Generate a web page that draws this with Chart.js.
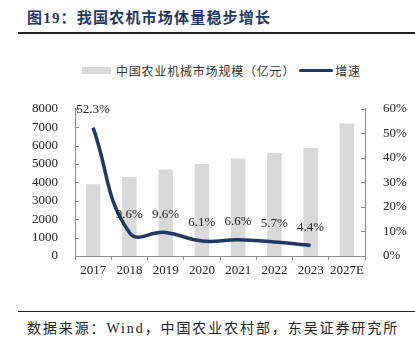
<!DOCTYPE html>
<html>
<head>
<meta charset="utf-8">
<script src="https://cdn.jsdelivr.net/npm/chart.js@4/dist/chart.umd.min.js"></script>
<style>
  body { margin: 0; width: 415px; height: 343px; background: #fff; position: relative; overflow: hidden; }
  .title { position: absolute; left: 27px; top: 6px; font: bold 15px "Liberation Serif", "Noto Sans CJK SC", serif; color: #1f3864; letter-spacing: 1.2px; }
  .rule { position: absolute; left: 18px; right: 0; height: 0; border-top: 2px solid #222; }
  .legend { position: absolute; top: 62px; left: 82px; font: 12px "Noto Sans CJK SC", sans-serif; color: #333; display: flex; align-items: center; letter-spacing: 0.8px; }
  .legend .box { width: 29px; height: 7px; background: #d9d9d9; margin-right: 5px; }
  .legend .ln { width: 34px; height: 3px; background: #1f3864; margin: 0 2px 0 4px; border-radius: 2px; }
  .source { position: absolute; left: 27px; top: 317px; font: 14px "Liberation Serif", "Noto Sans CJK SC", serif; color: #222; letter-spacing: 1.9px; }
  canvas { position: absolute; left: 0; top: 91px; }
</style>
</head>
<body>
<div class="title">图19：我国农机市场体量稳步增长</div>
<div class="rule" style="top:32px"></div>
<div class="legend"><span class="box"></span>中国农业机械市场规模（亿元）<span class="ln"></span>增速</div>
<canvas id="chart" width="415" height="195"></canvas>
<div class="rule" style="top:311px; border-top-width:1.5px"></div>
<div class="source">数据来源：Wind，中国农业农村部，东吴证券研究所</div>
<script>
const years = ["2017", "2018", "2019", "2020", "2021", "2022", "2023", "2027E"];
// 市场规模（亿元）
const marketSize = [3900, 4300, 4700, 5000, 5300, 5600, 5870, 7200];
// 增速（%）
const growth = [52.3, 9.6, 9.6, 6.1, 6.6, 5.7, 4.4, null];

const axisColor = "#8c8c8c";
const tickFont = { family: "Liberation Serif", size: 13 };

// inward tick marks on both value axes
const innerTicks = {
  id: "innerTicks",
  afterDatasetsDraw(chart) {
    const { ctx, chartArea, scales } = chart;
    ctx.save();
    ctx.strokeStyle = axisColor;
    ctx.lineWidth = 1;
    scales.y.ticks.forEach((t, i) => {
      const y = Math.round(scales.y.getPixelForTick(i)) + 0.5;
      ctx.beginPath();
      ctx.moveTo(chartArea.left, y);
      ctx.lineTo(chartArea.left + 4, y);
      ctx.stroke();
    });
    scales.y1.ticks.forEach((t, i) => {
      const y = Math.round(scales.y1.getPixelForTick(i)) + 0.5;
      ctx.beginPath();
      ctx.moveTo(chartArea.right, y);
      ctx.lineTo(chartArea.right - 4, y);
      ctx.stroke();
    });
    ctx.restore();
  },
};

// growth rate labels above the line points
const growthLabels = {
  id: "growthLabels",
  afterDatasetsDraw(chart) {
    const { ctx } = chart;
    const meta = chart.getDatasetMeta(1);
    ctx.save();
    ctx.font = "13px 'Liberation Serif'";
    ctx.fillStyle = "#222";
    ctx.textAlign = "center";
    ctx.textBaseline = "middle";
    meta.data.forEach((pt, i) => {
      if (growth[i] == null) return;
      ctx.fillText(growth[i].toFixed(1) + "%", pt.x, pt.y - 18);
    });
    ctx.restore();
  },
};

new Chart(document.getElementById("chart"), {
  type: "bar",
  data: {
    labels: years,
    datasets: [
      {
        label: "中国农业机械市场规模（亿元）",
        data: marketSize,
        backgroundColor: "#d9d9d9",
        barPercentage: 0.4,
        categoryPercentage: 1,
        yAxisID: "y",
        order: 1,
      },
      {
        type: "line",
        label: "增速",
        data: growth,
        borderColor: "#1f3864",
        borderWidth: 3.5,
        pointRadius: 0,
        tension: 0.45,
        yAxisID: "y1",
        order: 0,
      },
    ],
  },
  options: {
    responsive: false,
    animation: false,
    layout: { padding: { top: 9, left: 0, right: 0, bottom: 0 } },
    plugins: { legend: { display: false }, tooltip: { enabled: false } },
    scales: {
      x: {
        grid: { drawOnChartArea: false, offset: true, tickLength: 4, color: axisColor },
        border: { color: axisColor },
        ticks: { color: "#222", font: tickFont, padding: 3, maxRotation: 0, autoSkip: false },
        afterFit: (s) => { s.height = 30; },
      },
      y: {
        position: "left",
        min: 0,
        max: 8000,
        grid: { display: false },
        border: { color: axisColor },
        ticks: { stepSize: 1000, autoSkip: false, color: "#222", font: tickFont, padding: 9, callback: (v) => String(v) },
        afterFit: (s) => { s.width = 75; },
      },
      y1: {
        position: "right",
        min: 0,
        max: 60,
        grid: { display: false },
        border: { color: axisColor },
        ticks: { stepSize: 10, autoSkip: false, color: "#222", font: tickFont, padding: 10, callback: (v) => v + "%" },
        afterFit: (s) => { s.width = 50; },
      },
    },
  },
  plugins: [innerTicks, growthLabels],
});
</script>
</body>
</html>
